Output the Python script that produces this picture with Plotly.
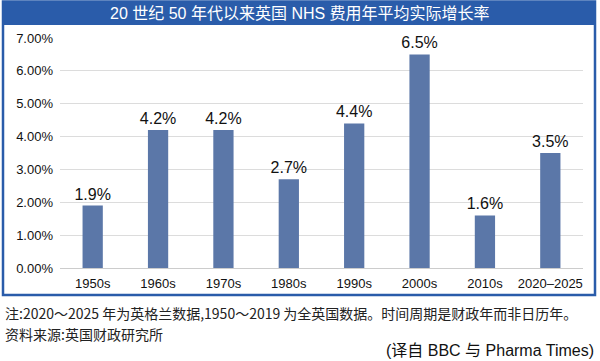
import plotly.graph_objects as go

categories = ["1950s", "1960s", "1970s", "1980s", "1990s", "2000s", "2010s", "2020–2025"]
values = [1.9, 4.2, 4.2, 2.7, 4.4, 6.5, 1.6, 3.5]
labels = ["1.9%", "4.2%", "4.2%", "2.7%", "4.4%", "6.5%", "1.6%", "3.5%"]
yticks = [0, 1, 2, 3, 4, 5, 6, 7]
yticklabels = ["0.00%", "1.00%", "2.00%", "3.00%", "4.00%", "5.00%", "6.00%", "7.00%"]

title = "20 世纪 50 年代以来英国 NHS 费用年平均实际增长率"
note1 = "注:2020～2025 年为英格兰数据,1950～2019 为全英国数据。时间周期是财政年而非日历年。"
note2 = "资料来源:英国财政研究所"
source = "(译自 BBC 与 Pharma Times)"

W, H = 600, 361
L, R, T, B = 60, 583, 38, 268

def px(x):
    return (x - L) / (R - L)

def py(y):
    return (B - y) / (B - T)

blue = "#2a5caa"
sans = "Liberation Sans, Arial, sans-serif"
cjk = "Liberation Sans, Noto Sans CJK SC, sans-serif"

fig = go.Figure()
fig.add_trace(go.Bar(
    x=categories, y=values, text=labels, textposition="outside",
    textfont=dict(size=16, color="#111111", family=sans),
    constraintext="none",
    marker=dict(color="#5b77a8", line=dict(width=0)),
    cliponaxis=False, width=0.31,
))

shapes = [
    dict(type="rect", xref="paper", yref="paper", x0=px(3), x1=px(595), y0=py(25), y1=py(1.5),
         fillcolor=blue, line=dict(width=0), layer="below"),
    dict(type="rect", xref="paper", yref="paper", x0=px(3), x1=px(595), y0=py(295), y1=py(1.5),
         fillcolor="rgba(0,0,0,0)", line=dict(color=blue, width=2.5), layer="below"),
]

annotations = [
    dict(text=title, xref="paper", yref="paper", x=px(300), y=py(14), showarrow=False,
         font=dict(size=16, color="white", family=cjk), xanchor="center", yanchor="middle"),
    dict(text=note1, xref="paper", yref="paper", x=px(3), y=py(313), showarrow=False,
         font=dict(size=14, color="#222222", family="Noto Sans CJK SC, serif"), xanchor="left", yanchor="middle"),
    dict(text=note2, xref="paper", yref="paper", x=px(3), y=py(334), showarrow=False,
         font=dict(size=14, color="#222222", family="Noto Sans CJK SC, serif"), xanchor="left", yanchor="middle"),
    dict(text=source, xref="paper", yref="paper", x=px(596), y=py(350), showarrow=False,
         font=dict(size=16, color="#111111", family=cjk), xanchor="right", yanchor="middle"),
]

fig.update_layout(
    width=W, height=H,
    margin=dict(l=L, r=W - R, t=T, b=H - B, pad=0),
    paper_bgcolor="white", plot_bgcolor="white",
    showlegend=False,
    shapes=shapes, annotations=annotations,
    xaxis=dict(type="category", tickfont=dict(size=13, color="#111111", family=sans),
               showline=False, showgrid=False, ticks="", ticklabelstandoff=6),
    yaxis=dict(range=[0, 7], tickvals=yticks, ticktext=yticklabels,
               tickfont=dict(size=13, color="#111111", family=sans),
               showgrid=True, gridcolor="#dcdcdc", gridwidth=1, zeroline=True,
               zerolinecolor="#cccccc", zerolinewidth=1, showline=False, ticks="",
               ticklabelstandoff=6, fixedrange=True),
)

fig.write_html("out.html", config={"displayModeBar": False},
               post_script="document.body.style.margin='0';document.body.style.overflow='hidden';")
